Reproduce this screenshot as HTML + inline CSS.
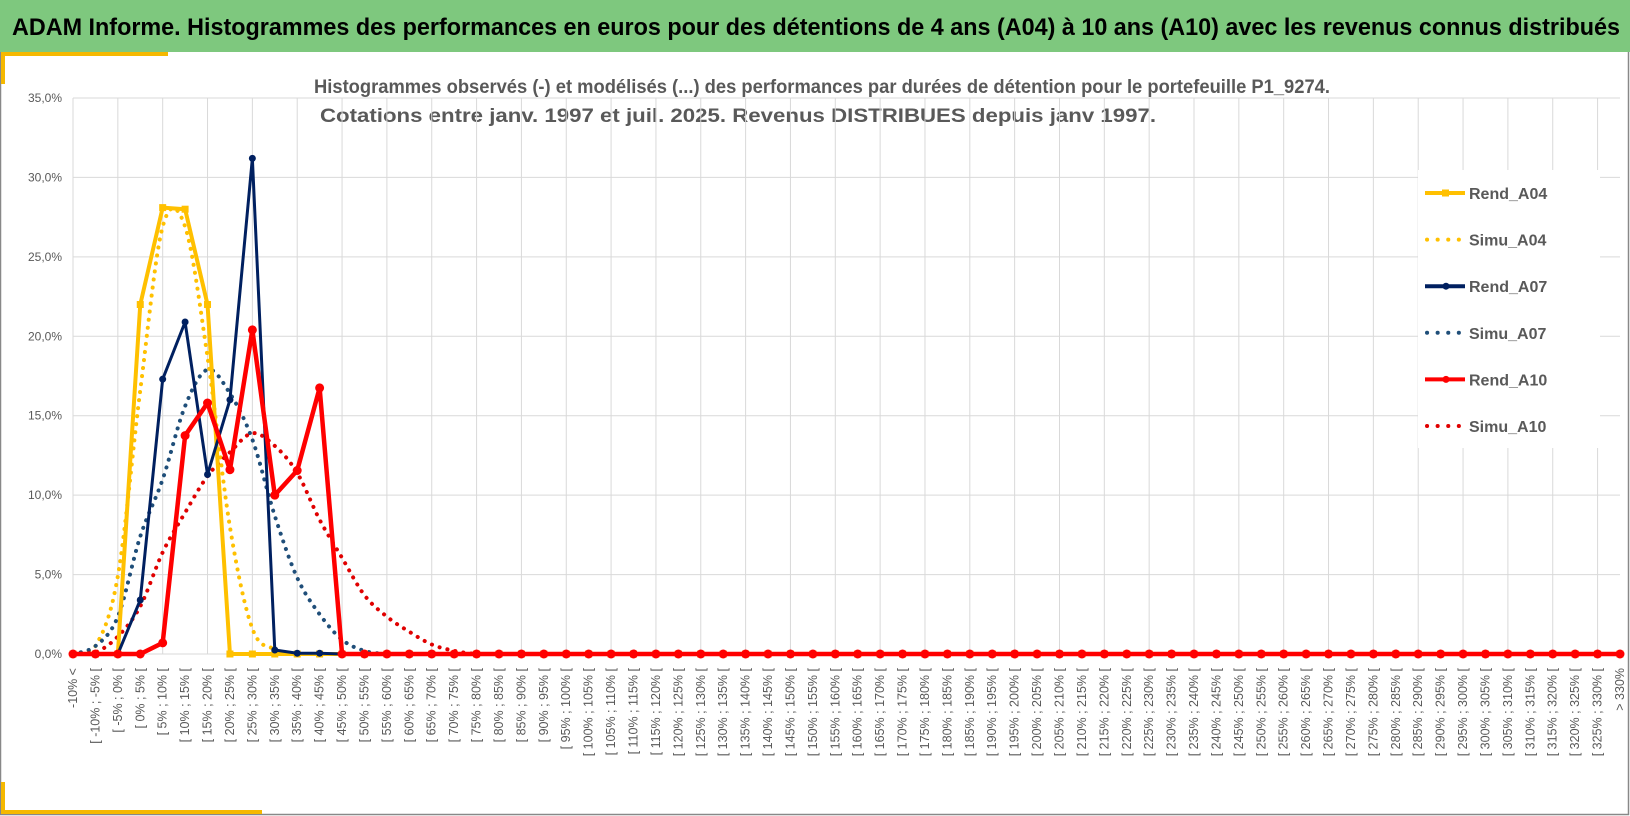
<!DOCTYPE html>
<html><head><meta charset="utf-8"><style>
body{margin:0;background:#fff;}
svg{display:block;font-family:"Liberation Sans",sans-serif;}
</style></head><body>
<svg id="chart" width="1630" height="816" viewBox="0 0 1630 816" xmlns="http://www.w3.org/2000/svg">
<rect x="0" y="0" width="1630" height="816" fill="#fff"/>
<rect x="0.5" y="0.5" width="1628" height="814" fill="none" stroke="#888" stroke-width="1.5"/>
<rect x="0" y="0" width="1630" height="52" fill="#7ec87e"/>
<text x="12" y="35" font-size="24" font-weight="bold" fill="#000" textLength="1608" lengthAdjust="spacingAndGlyphs">ADAM Informe. Histogrammes des performances en euros pour des détentions de 4 ans (A04) à 10 ans (A10) avec les revenus connus distribués</text>
<path d="M3 84 V54 H168" fill="none" stroke="#f5b800" stroke-width="4"/>
<path d="M3 782 V812 H262" fill="none" stroke="#f5b800" stroke-width="4"/>
<text x="822" y="93" font-size="19" font-weight="bold" fill="#595959" text-anchor="middle" textLength="1016" lengthAdjust="spacingAndGlyphs">Histogrammes observés (-) et modélisés (...) des performances par durées de détention pour  le portefeuille P1_9274.</text>
<text x="738" y="122" font-size="19" font-weight="bold" fill="#595959" text-anchor="middle" textLength="836" lengthAdjust="spacingAndGlyphs">Cotations entre janv. 1997 et juil. 2025. Revenus DISTRIBUES depuis janv 1997.</text>
<g id="grid"></g><g id="axes"></g><g id="series"></g><g id="legend"></g>
</svg>
<script>
const categories = ["-10% <"];
for (let a=-10; a<330; a+=5) categories.push("[ "+a+"% ; "+(a+5)+"% [");
categories.push("> 330%");
const yTicks = [0,5,10,15,20,25,30,35];
const yTickLabels = ["0,0%","5,0%","10,0%","15,0%","20,0%","25,0%","30,0%","35,0%"];
const rendA04 = [0,0,0,22.0,28.1,28.0,22.0,0,0,0];
const simuA04 = [0,0.5,4.9,16.6,26.9,26.9,18.7,8.0,1.6,0.3,0];
const rendA07 = [0,0,0,3.4,17.3,20.9,11.3,16.0,31.2,0.25,0.05,0.05,0];
const simuA07 = [0,0.5,2.35,7.4,11.0,15.6,17.9,16.4,13.5,8.7,4.8,2.5,0.9,0.2,0];
const rendA10 = [0,0,0,0,0.7,13.75,15.8,11.6,20.4,10.0,11.55,16.75,0];
const simuA10 = [0,0.1,1.1,3.0,6.4,8.9,11.2,12.7,13.9,13.1,11.4,8.45,6.05,3.7,2.35,1.4,0.6,0.2,0];
const N = categories.length;
function full(a){const r=a.slice();while(r.length<N)r.push(0);return r;}
const X0=73, X1=1620, Y0=654, Y35=98;
const xs = i => X0 + i*(X1-X0)/(N-1);
const ys = v => Y0 - v*(Y0-Y35)/35;
const NS="http://www.w3.org/2000/svg";
function mk(tag, attrs, parent){const e=document.createElementNS(NS,tag);for(const k in attrs)e.setAttribute(k,attrs[k]);parent.appendChild(e);return e;}
const grid=document.getElementById('grid'), axes=document.getElementById('axes'), series=document.getElementById('series'), legend=document.getElementById('legend');
yTicks.forEach((t,k)=>{
  const l=mk('line',{x1:X0,x2:X1,y1:ys(t),y2:ys(t),stroke:'#d9d9d9','stroke-width':1},grid);
  
  
  const tx=mk('text',{x:62,y:ys(t)+4,'font-size':12,fill:'#595959','text-anchor':'end'},axes);
  tx.textContent=yTickLabels[k];
  
  
});
for(let i=0;i<N;i+=2){
  const l=mk('line',{x1:xs(i),x2:xs(i),y1:Y35,y2:Y0,stroke:'#d9d9d9','stroke-width':1},grid);
  
  
}
categories.forEach((c,i)=>{
  const x=xs(i)+4, y=668;
  const tx=mk('text',{x:x,y:y,'font-size':12.5,fill:'#595959','text-anchor':'end',transform:`rotate(-90 ${x} ${y})`},axes);
  tx.textContent=c;
  
  
});
function smooth(pts){
  let d=`M${pts[0][0]} ${pts[0][1]}`;
  for(let i=0;i<pts.length-1;i++){
    const p0=pts[Math.max(0,i-1)],p1=pts[i],p2=pts[i+1],p3=pts[Math.min(pts.length-1,i+2)];
    const c1=[p1[0]+(p2[0]-p0[0])/6,p1[1]+(p2[1]-p0[1])/6];
    const c2=[p2[0]-(p3[0]-p1[0])/6,p2[1]-(p3[1]-p1[1])/6];
    d+=` C${c1[0]} ${Math.min(Y0,c1[1])} ${c2[0]} ${Math.min(Y0,c2[1])} ${p2[0]} ${p2[1]}`;
  }
  return d;
}
function drawSimu(vals,color,name){
  const pts=full(vals).map((v,i)=>[xs(i),ys(v)]);
  const p=mk('path',{d:smooth(pts),fill:'none',stroke:color,'stroke-width':4,'stroke-dasharray':'0.1 8','stroke-linecap':'round'},series);
  
  
}
function drawRend(vals,color,w,marker,r,name){
  const v=full(vals);
  const p=mk('polyline',{points:v.map((y,i)=>xs(i)+','+ys(y)).join(' '),fill:'none',stroke:color,'stroke-width':w,'stroke-linejoin':'round'},series);
  
  
  v.forEach((y,i)=>{
    let m;
    if(marker==='square') m=mk('rect',{x:xs(i)-r,y:ys(y)-r,width:2*r,height:2*r,fill:color},series);
    else m=mk('circle',{cx:xs(i),cy:ys(y),r:r,fill:color},series);
    
    
  });
}
drawSimu(simuA04,'#ffc000','simu-a04-line');
drawSimu(simuA07,'#1f4e79','simu-a07-line');
drawSimu(simuA10,'#e00000','simu-a10-line');
drawRend(rendA04,'#ffc000',4,'square',3.5,'rend-a04-line');
drawRend(rendA07,'#002060',3,'circle',3.5,'rend-a07-line');
drawRend(rendA10,'#ff0000',4.5,'circle',4.5,'rend-a10-line');
const lb=mk('rect',{x:1418,y:170,width:182,height:278,fill:'#fff'},legend);


const leg=[["Rend_A04","#ffc000","solid","square"],["Simu_A04","#ffc000","dot"],["Rend_A07","#002060","solid","circle"],["Simu_A07","#1f4e79","dot"],["Rend_A10","#ff0000","solid","circle"],["Simu_A10","#e00000","dot"]];
leg.forEach((e,k)=>{
  const y=193+k*46.6;
  const g=mk('g',{},legend);
  
  
  if(e[2]==='solid'){
    mk('line',{x1:1425,x2:1465,y1:y,y2:y,stroke:e[1],'stroke-width':4},g);
    if(e[3]==='square') mk('rect',{x:1442,y:y-3.5,width:7,height:7,fill:e[1]},g);
    else mk('circle',{cx:1446,cy:y,r:3.5,fill:e[1]},g);
  } else {
    mk('line',{x1:1427,x2:1460,y1:y,y2:y,stroke:e[1],'stroke-width':4,'stroke-dasharray':'0.1 10.5','stroke-linecap':'round'},g);
  }
  const t=mk('text',{x:1469,y:y+6,'font-size':16,'font-weight':'bold',fill:'#595959'},g);
  t.textContent=e[0];
});
</script>
</body></html>
